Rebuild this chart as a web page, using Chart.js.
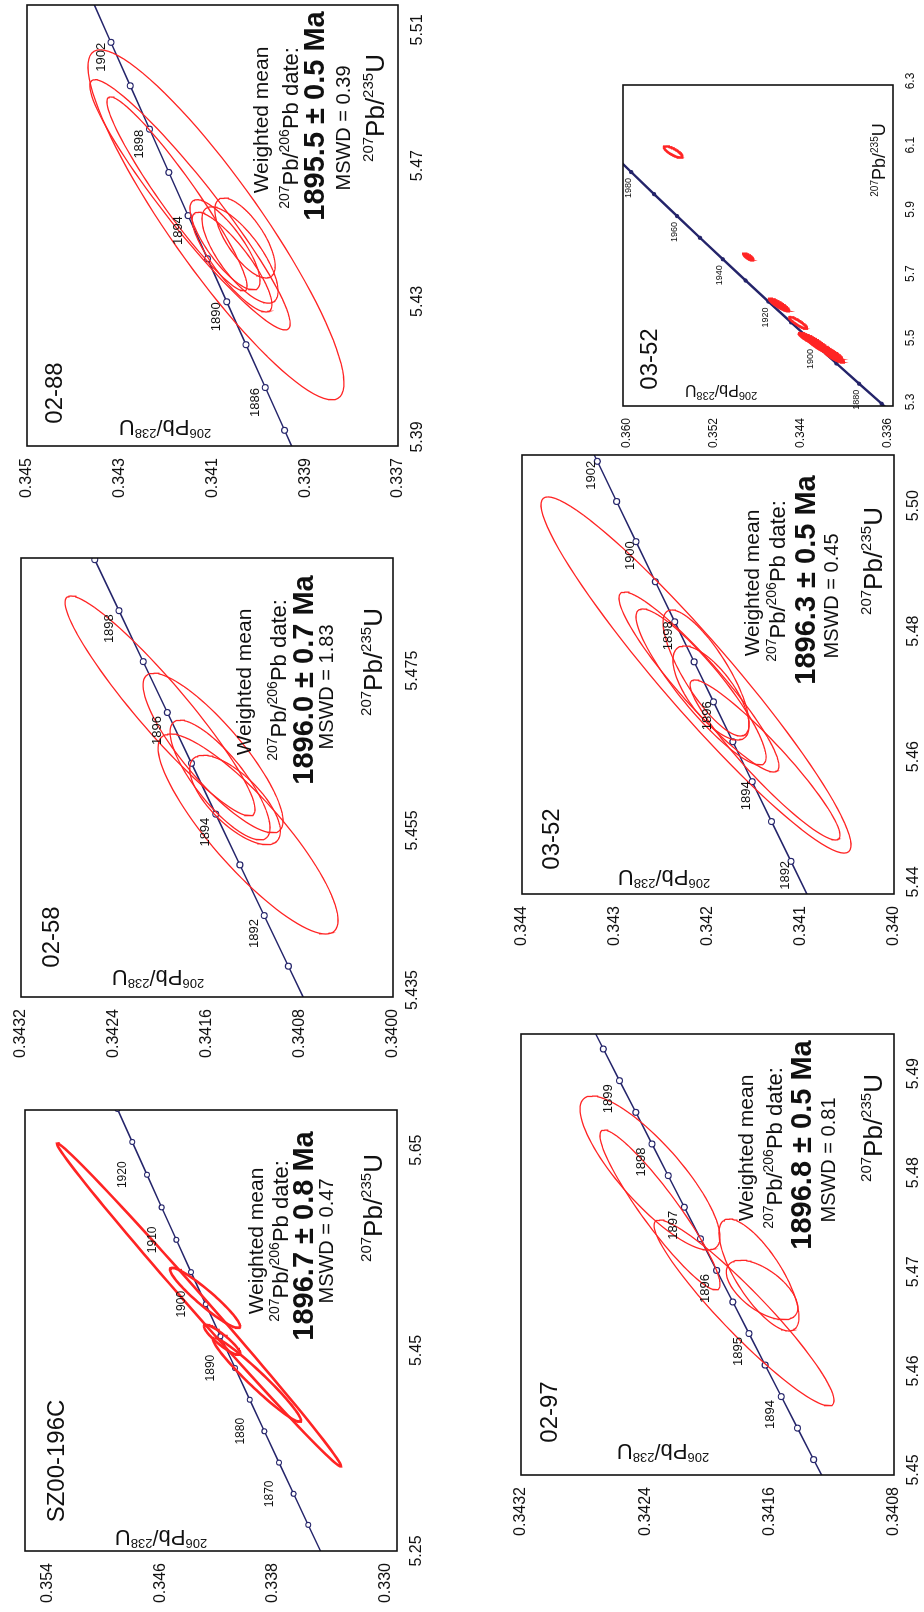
<!DOCTYPE html>
<html>
<head>
<meta charset="utf-8">
<title>U-Pb concordia diagrams</title>
<script src="https://cdn.jsdelivr.net/npm/chart.js@4.4.1/dist/chart.umd.min.js"></script>
<style>
  html, body { margin: 0; padding: 0; background: #fff; }
  body { width: 924px; height: 1612px; position: relative; overflow: hidden; }
  .panel { position: absolute; transform-origin: 0 0; transform: rotate(-90deg); }
  .panel canvas { display: block; }
</style>
</head>
<body>
<script>
// Concordia (age in Ma, 207Pb/235U, 206Pb/238U)
const concAge = [1860, 1865, 1870, 1875, 1880, 1882, 1884, 1885, 1886, 1888, 1889, 1890, 1890.5, 1891, 1891.5, 1892, 1892.5, 1893, 1893.5, 1894, 1894.5, 1895, 1895.5, 1896, 1896.5, 1897, 1897.5, 1898, 1898.5, 1899, 1899.5, 1900, 1900.5, 1901, 1901.5, 1902, 1903, 1904, 1905, 1906, 1908, 1910, 1915, 1920, 1925, 1930, 1940, 1950, 1960, 1970, 1980, 1990];
const concX = [5.245249, 5.276078, 5.307059, 5.338193, 5.369481, 5.382040, 5.394623, 5.400923, 5.407231, 5.419863, 5.426189, 5.432521, 5.435689, 5.438859, 5.442031, 5.445204, 5.448378, 5.451554, 5.454732, 5.457911, 5.461092, 5.464275, 5.467459, 5.470644, 5.473831, 5.477020, 5.480210, 5.483402, 5.486595, 5.489790, 5.492987, 5.496185, 5.499384, 5.502586, 5.505789, 5.508993, 5.515406, 5.521826, 5.528253, 5.534685, 5.547569, 5.560478, 5.592864, 5.625409, 5.658114, 5.690981, 5.757203, 5.824080, 5.891619, 5.959827, 6.028709, 6.098273];
const concY = [0.334468, 0.335503, 0.336539, 0.337576, 0.338614, 0.339030, 0.339445, 0.339653, 0.339861, 0.340277, 0.340485, 0.340692, 0.340797, 0.340900, 0.341004, 0.341108, 0.341212, 0.341317, 0.341421, 0.341525, 0.341629, 0.341733, 0.341837, 0.341941, 0.342045, 0.342149, 0.342253, 0.342357, 0.342461, 0.342566, 0.342670, 0.342774, 0.342878, 0.342982, 0.343086, 0.343190, 0.343399, 0.343607, 0.343816, 0.344024, 0.344441, 0.344858, 0.345902, 0.346946, 0.347991, 0.349037, 0.351132, 0.353229, 0.355330, 0.357434, 0.359541, 0.361652];

// 02-88
const p0288XTicks = [5.39, 5.43, 5.47, 5.51];
const p0288XLabels = ['5.39', '5.43', '5.47', '5.51'];
const p0288YTicks = [0.337, 0.339, 0.341, 0.343, 0.345];
const p0288YLabels = ['0.337', '0.339', '0.341', '0.343', '0.345'];
const p0288Ages = [1880, 1882, 1884, 1886, 1888, 1890, 1892, 1894, 1896, 1898, 1900, 1902, 1904, 1906, 1908];
const p0288AgeLabels = [1886, 1890, 1894, 1898, 1902];
const p0288Cx = [5.4552, 5.4611, 5.4643, 5.4493, 5.4463, 5.4442, 5.4513];
const p0288Cy = [0.340925, 0.341485, 0.341766, 0.340731, 0.340407, 0.34058, 0.3403];
const p0288Sx = [0.0516, 0.0369, 0.0286, 0.0133, 0.0142, 0.0147, 0.0118];
const p0288Sy = [0.00276, 0.00216, 0.00151, 0.000755, 0.00082, 0.00086, 0.00065];
const p0288Rho = [0.905, 0.949, 0.95, 0.8, 0.75, 0.85, 0.7];

// 02-58
const p0258XTicks = [5.435, 5.455, 5.475];
const p0258XLabels = ['5.435', '5.455', '5.475'];
const p0258YTicks = [0.3400, 0.3408, 0.3416, 0.3424, 0.3432];
const p0258YLabels = ['0.3400', '0.3408', '0.3416', '0.3424', '0.3432'];
const p0258Ages = [1888, 1889, 1890, 1891, 1892, 1893, 1894, 1895, 1896, 1897, 1898, 1899, 1900, 1901, 1902];
const p0258AgeLabels = [1892, 1894, 1896, 1898];
const p0258Cx = [5.47146, 5.45542, 5.46557, 5.46218, 5.45968];
const p0258Cy = [0.342004, 0.341247, 0.341548, 0.341488, 0.341359];
const p0258Sx = [0.01378, 0.01253, 0.01, 0.0075, 0.0056];
const p0258Sy = [0.000817, 0.000774, 0.000602, 0.00043, 0.00039];
const p0258Rho = [0.94, 0.863, 0.85, 0.8, 0.7];

// SZ00-196C
const pSZXTicks = [5.25, 5.45, 5.65];
const pSZXLabels = ['5.25', '5.45', '5.65'];
const pSZYTicks = [0.330, 0.338, 0.346, 0.354];
const pSZYLabels = ['0.330', '0.338', '0.346', '0.354'];
const pSZAges = [1860, 1865, 1870, 1875, 1880, 1885, 1890, 1895, 1900, 1905, 1910, 1915, 1920, 1925, 1930];
const pSZAgeLabels = [1870, 1880, 1890, 1900, 1910, 1920];
const pSZCx = [5.4955, 5.5025, 5.4207, 5.4606];
const pSZCy = [0.343251, 0.342825, 0.339135, 0.341619];
const pSZSx = [0.1612, 0.03, 0.0419, 0.015];
const pSZSy = [0.01008, 0.00248, 0.00312, 0.00128];
const pSZRho = [0.997, 0.94, 0.966, 0.9];

// 03-52 (overview)
const p0352sXTicks = [5.3, 5.5, 5.7, 5.9, 6.1, 6.3];
const p0352sXLabels = ['5.3', '5.5', '5.7', '5.9', '6.1', '6.3'];
const p0352sYTicks = [0.336, 0.344, 0.352, 0.360];
const p0352sYLabels = ['0.336', '0.344', '0.352', '0.360'];
const p0352sAges = [1860, 1870, 1880, 1890, 1900, 1910, 1920, 1930, 1940, 1950, 1960, 1970, 1980, 1990];
const p0352sAgeLabels = [1880, 1900, 1920, 1940, 1960, 1980];
const p0352sCx = [6.091, 5.764, 5.6146, 5.5586, 5.5056, 5.4838, 5.4651, 5.4527];
const p0352sCy = [0.3557, 0.3488, 0.34597, 0.34423, 0.34303, 0.34211, 0.3412, 0.34092];
const p0352sSx = [0.018, 0.011, 0.02, 0.0187, 0.022, 0.025, 0.02, 0.018];
const p0352sSy = [0.00085, 0.00046, 0.00092, 0.00083, 0.00115, 0.0012, 0.001, 0.0009];
const p0352sRho = [0.8, 0.8, 0.9, 0.9, 0.9, 0.9, 0.9, 0.9];

// 03-52
const p0352XTicks = [5.44, 5.46, 5.48, 5.50];
const p0352XLabels = ['5.44', '5.46', '5.48', '5.50'];
const p0352YTicks = [0.340, 0.341, 0.342, 0.343, 0.344];
const p0352YLabels = ['0.340', '0.341', '0.342', '0.343', '0.344'];
const p0352Ages = [1888, 1889, 1890, 1891, 1892, 1893, 1894, 1895, 1896, 1897, 1898, 1899, 1900, 1901, 1902, 1903, 1904, 1905, 1906];
const p0352AgeLabels = [1892, 1894, 1896, 1898, 1900, 1902];
const p0352Cx = [5.47492, 5.4738, 5.47301, 5.47524, 5.47205, 5.46137];
const p0352Cy = [0.342129, 0.342097, 0.342075, 0.342021, 0.341968, 0.341387];
const p0352Sx = [0.0284, 0.01435, 0.01244, 0.01005, 0.0075, 0.01276];
const p0352Sy = [0.001667, 0.00086, 0.000699, 0.000462, 0.000409, 0.000806];
const p0352Rho = [0.955, 0.933, 0.90, 0.8, 0.7, 0.94];

// 02-97
const p0297XTicks = [5.45, 5.46, 5.47, 5.48, 5.49];
const p0297XLabels = ['5.45', '5.46', '5.47', '5.48', '5.49'];
const p0297YTicks = [0.3408, 0.3416, 0.3424, 0.3432];
const p0297YLabels = ['0.3408', '0.3416', '0.3424', '0.3432'];
const p0297Ages = [1890, 1890.5, 1891, 1891.5, 1892, 1892.5, 1893, 1893.5, 1894, 1894.5, 1895, 1895.5, 1896, 1896.5, 1897, 1897.5, 1898, 1898.5, 1899, 1899.5, 1900, 1900.5, 1901];
const p0297AgeLabels = [1894, 1895, 1896, 1897, 1898, 1899];
const p0297Cx = [5.46635, 5.47018, 5.46867, 5.48047, 5.47674];
const p0297Cy = [0.341765, 0.341669, 0.341649, 0.34237, 0.342306];
const p0297Sx = [0.00938, 0.00565, 0.003, 0.00777, 0.00807];
const p0297Sy = [0.000579, 0.000257, 0.00023, 0.00045, 0.000386];
const p0297Rho = [0.942, 0.75, 0.6, 0.83, 0.93];

const FONT = '"Liberation Sans", Arial, Helvetica, sans-serif';
const RED = '#ff2424';
const NAVY = '#24246a';

// screen box = [left, right, top, bottom] of the rotated plot area
const panels = [
  { sample: '02-88', box: [27, 398, 5, 446], xr: [5.39, 5.52], yr: [0.337, 0.345],
    xt: p0288XTicks, xl: p0288XLabels, yt: p0288YTicks, yl: p0288YLabels,
    ages: p0288Ages, ageLab: p0288AgeLabels,
    ell: [p0288Cx, p0288Cy, p0288Sx, p0288Sy, p0288Rho],
    mean: '1895.5 \u00b1 0.5 Ma', mswd: 'MSWD = 0.39',
    at: { sample: [53, 26], ytitle: [18, 138], wm: [326, 233], date: [318, 263], bold: [330, 287], mswd: [318, 316], xtitle: [338, 348] },
    labOff: [-15, -10], xOff: 9, ptR: 3, lw: 1.3 },
  { sample: '02-58', box: [21, 393, 558, 997], xr: [5.435, 5.49], yr: [0.3400, 0.3432],
    xt: p0258XTicks, xl: p0258XLabels, yt: p0258YTicks, yl: p0258YLabels,
    ages: p0258Ages, ageLab: p0258AgeLabels,
    ell: [p0258Cx, p0258Cy, p0258Sx, p0258Sy, p0258Rho],
    mean: '1896.0 \u00b1 0.7 Ma', mswd: 'MSWD = 1.83',
    at: { sample: [60, 29], ytitle: [19, 137], wm: [315, 222], date: [317, 257], bold: [317, 282], mswd: [310, 305], xtitle: [335, 352] },
    labOff: [-18, -10], xOff: 7, ptR: 3, lw: 1.3 },
  { sample: 'SZ00-196C', box: [25, 397, 1110, 1551], xr: [5.25, 5.69], yr: [0.3292, 0.3556],
    xt: pSZXTicks, xl: pSZXLabels, yt: pSZYTicks, yl: pSZYLabels,
    ages: pSZAges, ageLab: pSZAgeLabels,
    ell: [pSZCx, pSZCy, pSZSx, pSZSy, pSZRho],
    mean: '1896.7 \u00b1 0.8 Ma', mswd: 'MSWD = 0.47',
    at: { sample: [90, 30], ytitle: [13, 136], wm: [310, 230], date: [310, 255], bold: [315, 278], mswd: [310, 301], xtitle: [343, 348] },
    labOff: [0, -24], xOff: 0, ptR: 2.5, lw: 2.6, ageSize: 12 },
  { sample: '03-52', box: [623, 893, 85, 406], xr: [5.3, 6.3], yr: [0.3355, 0.3603],
    xt: p0352sXTicks, xl: p0352sXLabels, yt: p0352sYTicks, yl: p0352sYLabels,
    ages: p0352sAges, ageLab: p0352sAgeLabels,
    ell: [p0352sCx, p0352sCy, p0352sSx, p0352sSy, p0352sRho],
    filled: [false, true, true, false, true, true, true, true],
    at: { sample: [47, 25], ytitle: [15, 98], xtitle: [246, 256] },
    labOff: [-16, -3], xOff: 4, ptR: 1.6, lw: 2.4, small: true, ageSize: 9 },
  { sample: '03-52', box: [522, 894, 455, 894], xr: [5.44, 5.51], yr: [0.340, 0.344],
    xt: p0352XTicks, xl: p0352XLabels, yt: p0352YTicks, yl: p0352YLabels,
    ages: p0352Ages, ageLab: p0352AgeLabels,
    ell: [p0352Cx, p0352Cy, p0352Sx, p0352Sy, p0352Rho],
    mean: '1896.3 \u00b1 0.5 Ma', mswd: 'MSWD = 0.45',
    at: { sample: [55, 28], ytitle: [16, 142], wm: [311, 229], date: [313, 255], bold: [314, 283], mswd: [298, 309], xtitle: [333, 351] },
    labOff: [-14, -6], xOff: 12, ptR: 3, lw: 1.3 },
  { sample: '02-97', box: [521, 894, 1034, 1475], xr: [5.45, 5.4945], yr: [0.3408, 0.3432],
    xt: p0297XTicks, xl: p0297XLabels, yt: p0297YTicks, yl: p0297YLabels,
    ages: p0297Ages, ageLab: p0297AgeLabels,
    ell: [p0297Cx, p0297Cy, p0297Sx, p0297Sy, p0297Rho],
    mean: '1896.8 \u00b1 0.5 Ma', mswd: 'MSWD = 0.81',
    at: { sample: [63, 27], ytitle: [23, 142], wm: [327, 224], date: [327, 253], bold: [330, 280], mswd: [315, 307], xtitle: [347, 352] },
    labOff: [-18, -11], xOff: 5, ptR: 3, lw: 1.3 }
];

// error ellipse outline from centre, 2-sigma half errors and correlation
function ellipsePath(cx, cy, sx, sy, rho) {
  const k = Math.sqrt(1 - rho * rho);
  const pts = [];
  for (let i = 0; i <= 96; i++) {
    const t = i / 96 * 2 * Math.PI;
    pts.push({ x: cx + sx * Math.cos(t), y: cy + sy * (rho * Math.cos(t) + k * Math.sin(t)) });
  }
  return pts;
}

// text made of normal and superscript pieces, centred on (x, y)
function drawRich(ctx, parts, x, y, size, supSize, weight) {
  let total = 0;
  parts.forEach(function (p) {
    ctx.font = (weight || '') + ' ' + (p[1] ? supSize : size) + 'px ' + FONT;
    p.w = ctx.measureText(p[0]).width;
    total += p.w;
  });
  let cx = x - total / 2;
  const base = y + size * 0.36;
  parts.forEach(function (p) {
    ctx.font = (weight || '') + ' ' + (p[1] ? supSize : size) + 'px ' + FONT;
    ctx.fillText(p[0], cx, p[1] ? base - size * 0.42 : base);
    cx += p.w;
  });
}

const boxPlugin = {
  id: 'box',
  afterDatasetsDraw(chart) {
    const a = chart.chartArea;
    const ctx = chart.ctx;
    ctx.save();
    ctx.strokeStyle = '#111';
    ctx.lineWidth = 1.6;
    ctx.strokeRect(a.left, a.top, a.right - a.left, a.bottom - a.top);
    ctx.restore();
  }
};

function makePanel(p) {
  const L = 70, R = 40, T = 20, B = 40;
  const W = p.box[3] - p.box[2];
  const H = p.box[1] - p.box[0];
  const div = document.createElement('div');
  div.className = 'panel';
  div.style.left = (p.box[0] - T) + 'px';
  div.style.top = (p.box[3] + L) + 'px';
  const canvas = document.createElement('canvas');
  canvas.width = L + W + R;
  canvas.height = T + H + B;
  div.appendChild(canvas);
  document.body.appendChild(div);

  const datasets = [];
  // concordia curve with age ticks
  datasets.push({
    data: p.ages.map(function (a) { const i = concAge.indexOf(a); return { x: concX[i], y: concY[i] }; }),
    showLine: true, borderColor: NAVY, borderWidth: p.small ? 2.4 : 1.5,
    pointRadius: p.ptR, pointBorderWidth: 1.1, pointBorderColor: NAVY,
    pointBackgroundColor: p.small ? NAVY : '#fff', order: 2
  });
  const e = p.ell;
  for (let i = 0; i < e[0].length; i++) {
    const filled = p.filled ? p.filled[i] : false;
    datasets.push({
      data: ellipsePath(e[0][i], e[1][i], e[2][i], e[3][i], e[4][i]),
      showLine: true, borderColor: RED, borderWidth: p.lw, pointRadius: 0,
      fill: filled ? 'shape' : false, backgroundColor: RED, tension: 0, order: 1
    });
  }

  const tickSize = p.small ? 12 : 16;
  const textPlugin = {
    id: 'txt',
    afterDraw(chart) {
      const ctx = chart.ctx;
      const a = chart.chartArea;
      const xs = chart.scales.x, ys = chart.scales.y;
      ctx.save();
      ctx.fillStyle = '#111';
      // age labels on the concordia
      ctx.font = (p.ageSize || 13) + 'px ' + FONT;
      ctx.textAlign = 'center';
      ctx.textBaseline = 'middle';
      p.ageLab.forEach(function (age) {
        const i = concAge.indexOf(age);
        const px = xs.getPixelForValue(concX[i]) + p.labOff[0];
        const py = ys.getPixelForValue(concY[i]) + p.labOff[1];
        ctx.fillText(String(age), px, py);
      });
      ctx.textAlign = 'left';
      ctx.textBaseline = 'alphabetic';
      const at = p.at;
      // sample name
      ctx.font = '24px ' + FONT;
      const sw = ctx.measureText(p.sample).width;
      ctx.fillText(p.sample, a.left + at.sample[0] - sw / 2, a.top + at.sample[1] + 24 * 0.36);
      // y axis title, reading upwards
      ctx.save();
      ctx.translate(a.left + at.ytitle[0], a.top + at.ytitle[1]);
      ctx.rotate(-Math.PI / 2);
      drawRich(ctx, [['206', 1], ['Pb/'], ['238', 1], ['U']], 0, 0, p.small ? 16 : 22, p.small ? 11 : 13);
      ctx.restore();
      // x axis title
      drawRich(ctx, [['207', 1], ['Pb/'], ['235', 1], ['U']], a.left + at.xtitle[0], a.top + at.xtitle[1], p.small ? 18 : 26, p.small ? 10 : 15);
      if (p.mean) {
        drawRich(ctx, [['Weighted mean']], a.left + at.wm[0], a.top + at.wm[1], 21, 13);
        drawRich(ctx, [['207', 1], ['Pb/'], ['206', 1], ['Pb date:']], a.left + at.date[0], a.top + at.date[1], 22, 14);
        drawRich(ctx, [[p.mean]], a.left + at.bold[0], a.top + at.bold[1], 29, 16, 'bold');
        drawRich(ctx, [[p.mswd]], a.left + at.mswd[0], a.top + at.mswd[1], 20, 12);
      }
      ctx.restore();
    }
  };

  new Chart(canvas, {
    type: 'scatter',
    data: { datasets: datasets },
    options: {
      responsive: false,
      animation: false,
      devicePixelRatio: 1,
      layout: { padding: { left: 0, top: T, right: R, bottom: 0 } },
      plugins: { legend: { display: false }, tooltip: { enabled: false } },
      scales: {
        x: {
          type: 'linear', min: p.xr[0], max: p.xr[1],
          grid: { display: false, drawTicks: false }, border: { display: false },
          ticks: {
            color: '#111', font: { family: FONT, size: tickSize }, padding: 10,
            autoSkip: false, maxRotation: 0, minRotation: 0, labelOffset: p.xOff,
            callback: function (v, i) { return p.xl[i]; }
          },
          afterBuildTicks: function (s) { s.ticks = p.xt.map(function (v) { return { value: v }; }); },
          afterFit: function (s) { s.height = B; s.paddingLeft = 0; s.paddingRight = 0; }
        },
        y: {
          type: 'linear', min: p.yr[0], max: p.yr[1],
          grid: { display: false, drawTicks: false }, border: { display: false },
          ticks: {
            color: '#111', font: { family: FONT, size: tickSize }, padding: 12,
            autoSkip: false,
            callback: function (v, i) { return p.yl[i]; }
          },
          afterBuildTicks: function (s) { s.ticks = p.yt.map(function (v) { return { value: v }; }); },
          afterFit: function (s) { s.width = L; s.paddingTop = 0; s.paddingBottom = 0; }
        }
      }
    },
    plugins: [boxPlugin, textPlugin]
  });
}

panels.forEach(makePanel);
</script>
</body>
</html>
